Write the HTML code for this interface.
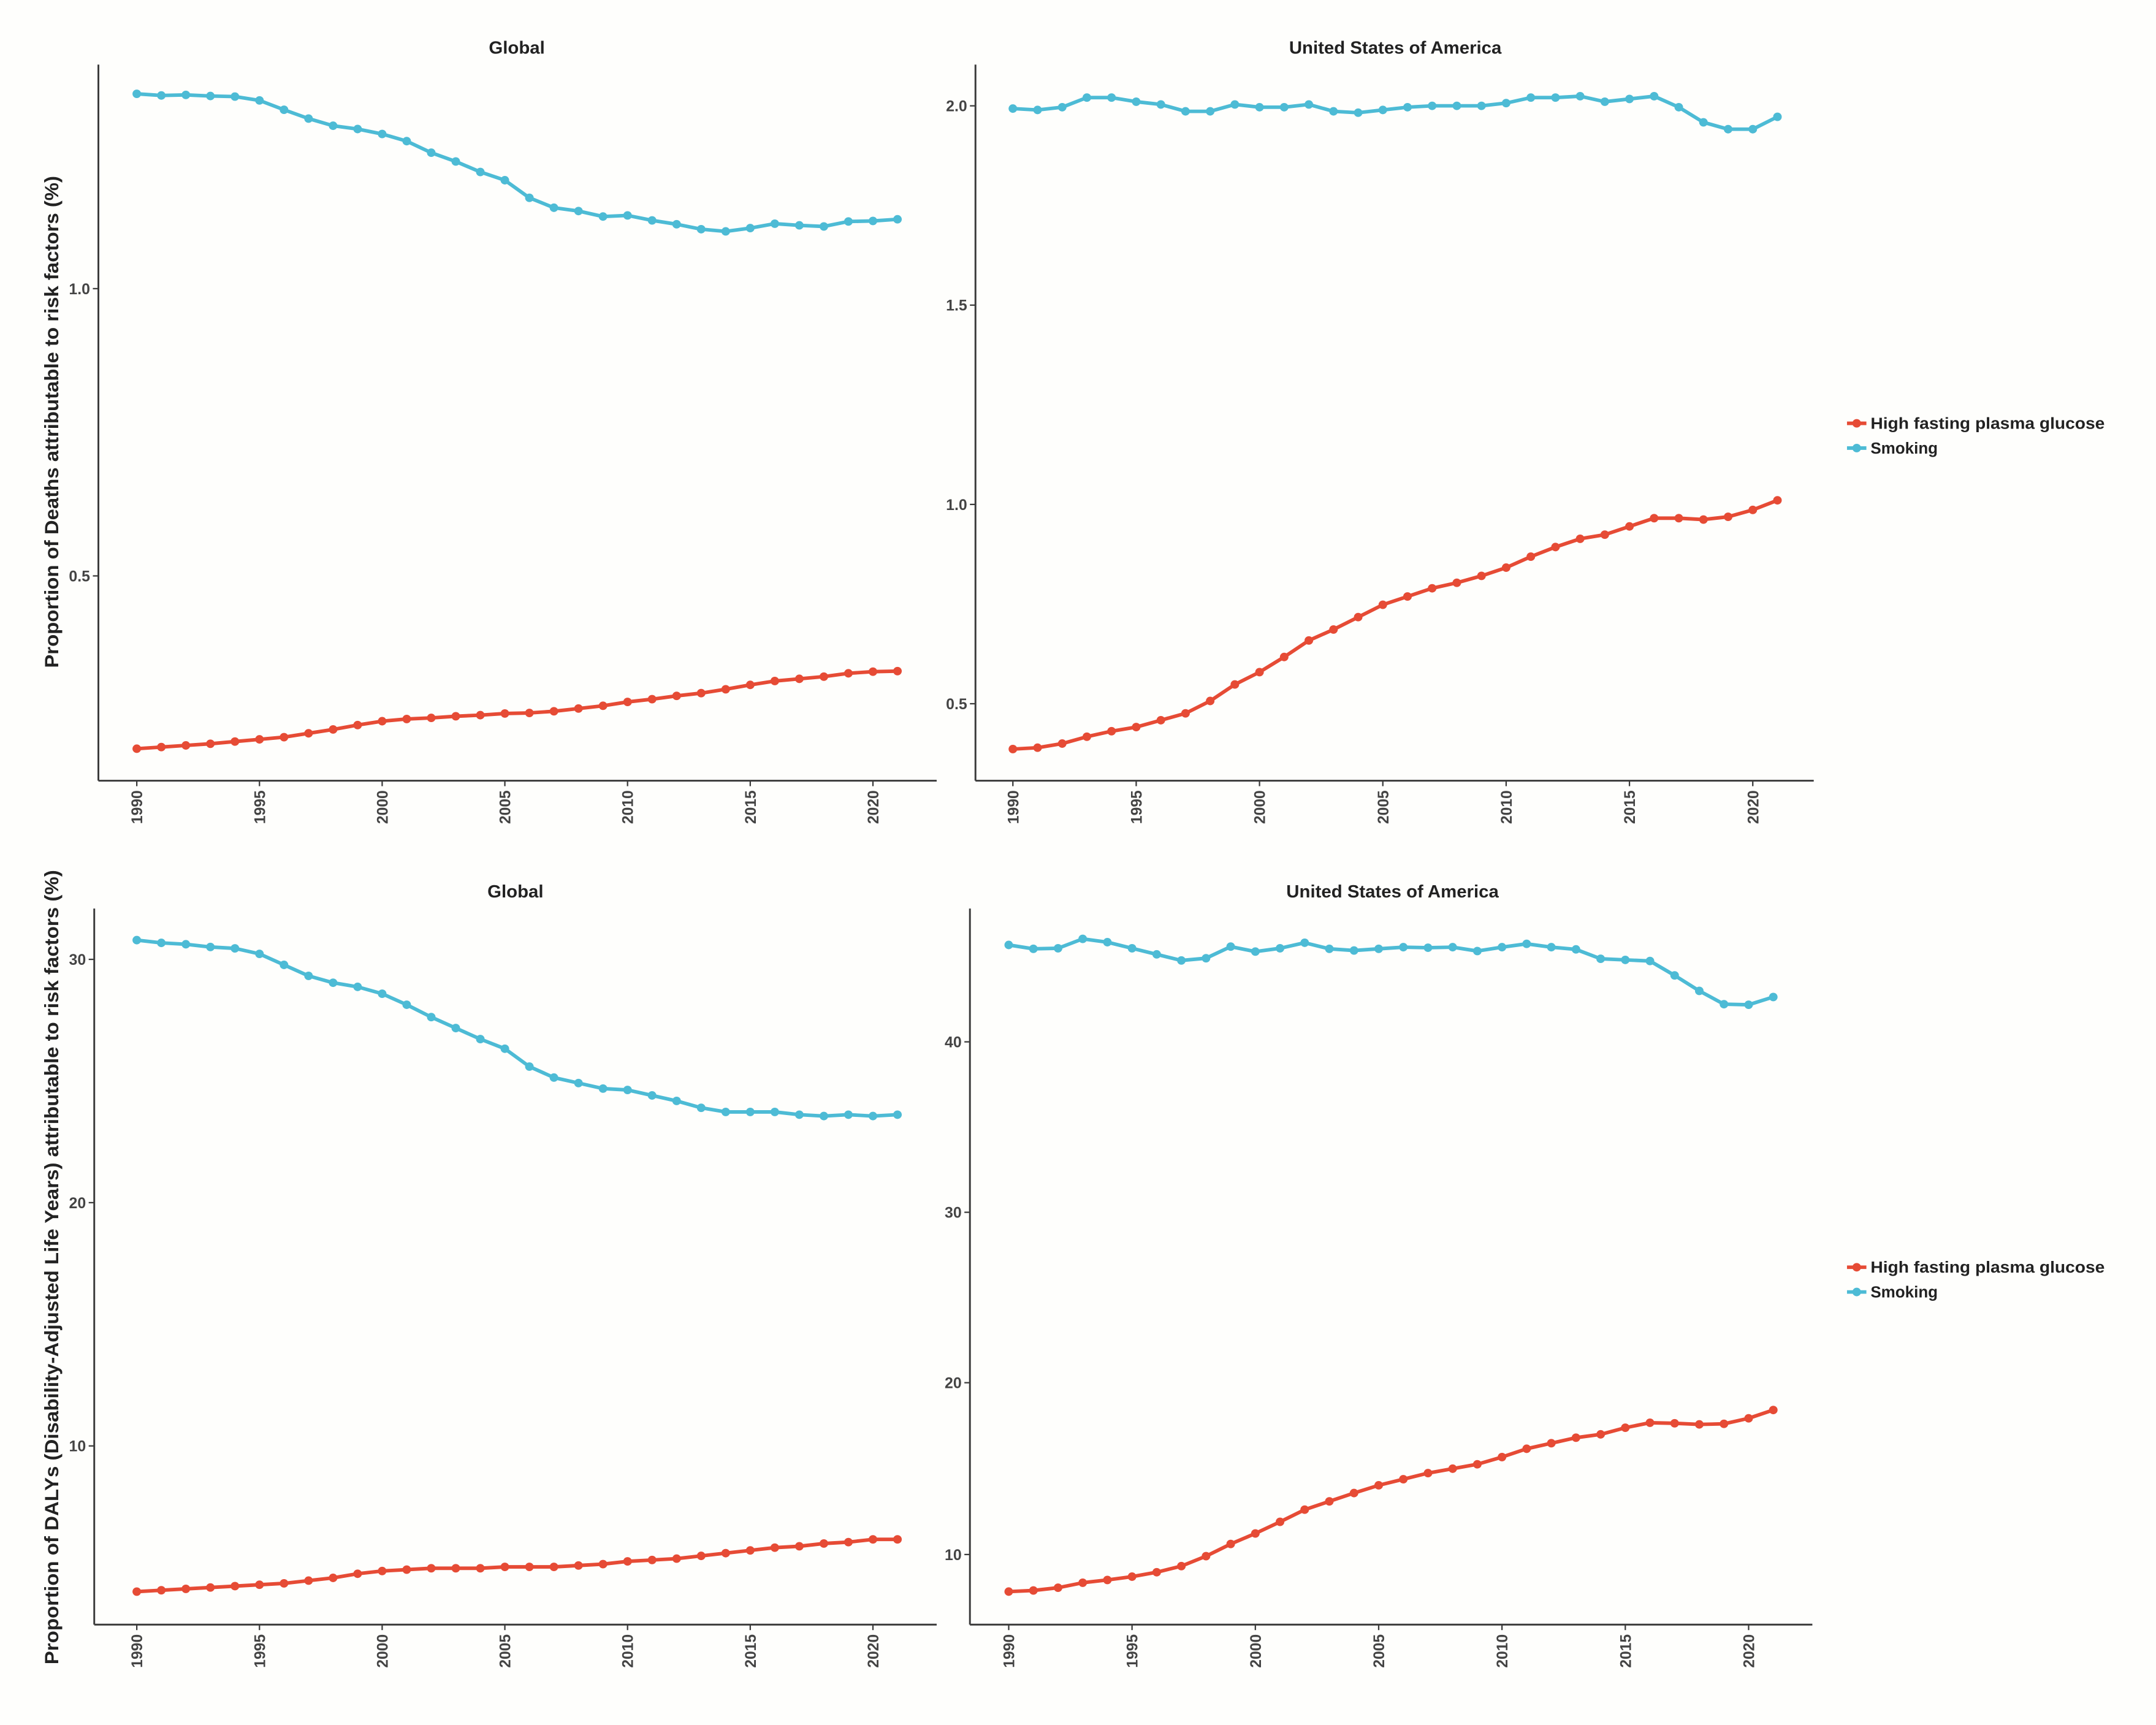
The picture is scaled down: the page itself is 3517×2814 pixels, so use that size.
<!DOCTYPE html>
<html><head><meta charset="utf-8"><style>
html,body{margin:0;padding:0;background:#fefefc;}
svg{display:block;}
text{font-family:"Liberation Sans",sans-serif;}
</style></head><body>
<svg id="s" width="3517" height="2814" viewBox="0 0 1556 1245" xmlns="http://www.w3.org/2000/svg">
<rect width="1556" height="1245" fill="#fefefc"/>
<g id="g" transform="scale(1,0.992)"></g>
</svg>
<script>
const g=document.getElementById('g');let h='';
const RED='#E64B35',BLUE='#4DBBD5',AX='#3a3a3a';
function panel(o){
 h+=`<line x1="${o.l}" y1="${o.t}" x2="${o.l}" y2="${o.b}" stroke="${AX}" stroke-width="1.3"/>`;
 h+=`<line x1="${o.l}" y1="${o.b}" x2="${o.r}" y2="${o.b}" stroke="${AX}" stroke-width="1.3"/>`;
 h+=`<text x="${o.tx}" y="${o.t-8}" font-size="13" font-weight="bold" text-anchor="middle" fill="#222">${o.title}</text>`;
 for(const [v,y] of o.yt){
  h+=`<line x1="${o.l-4}" y1="${y}" x2="${o.l}" y2="${y}" stroke="${AX}" stroke-width="1"/>`;
  h+=`<text x="${o.l-6}" y="${y+4}" font-size="11" font-weight="bold" text-anchor="end" fill="#444">${v}</text>`;
 }
 const dx=(o.x2020-o.x1990)/30;
 for(let yr=1990;yr<=2020;yr+=5){
  const x=o.x1990+(yr-1990)*dx;
  h+=`<line x1="${x}" y1="${o.b}" x2="${x}" y2="${o.b+4}" stroke="${AX}" stroke-width="1"/>`;
  h+=`<text transform="translate(${x+4},${o.b+7}) rotate(-90)" font-size="11" font-weight="bold" text-anchor="end" fill="#444">${yr}</text>`;
 }
 for(const [ys,c] of [[o.red,RED],[o.blue,BLUE]]){
  const pts=ys.map((y,i)=>[o.x1990+i*dx,y]);
  h+=`<polyline points="${pts.map(p=>p.join(',')).join(' ')}" fill="none" stroke="${c}" stroke-width="2.6" stroke-linejoin="round"/>`;
  for(const p of pts)h+=`<circle cx="${p[0]}" cy="${p[1]}" r="3.1" fill="${c}"/>`;
 }
}
const mapA=a=>a.map(z=>210+(z-530)*0.4004);
const mapD=a=>a.map(z=>758+(z-334)*0.4028);
panel({l:71,r:676,t:47,b:568,tx:373,title:'Global',x1990:98.7,x2020:630,
 yt:[['1.0',210],['0.5',419]],
 blue:mapA([176,179,178,180,181,188,205,221,234,240,249,262,283,299,318,333,365,383,389,399,397,406,413,422,426,420,412,415,417,408,407,404]),
 red:mapA([1366,1363,1360,1357,1353,1349,1345,1338,1331,1323,1316,1312,1310,1307,1305,1302,1301,1298,1293,1288,1281,1276,1270,1265,1258,1250,1243,1239,1235,1229,1226,1225])});
panel({l:704,r:1309,t:47,b:568,tx:1007,title:'United States of America',x1990:731,x2020:1265,
 yt:[['2.0',77],['1.5',222],['1.0',367],['0.5',512]],
 blue:[79,80,78,71,71,74,76,81,81,76,78,78,76,81,82,80,78,77,77,77,75,71,71,70,74,72,70,78,89,94,94,85],
 red:[545,544,541,536,532,529,524,519,510,498,489,478,466,458,449,440,434,428,424,419,413,405,398,392,389,383,377,377,378,376,371,364]});
panel({l:68,r:676,t:661,b:1182,tx:372,title:'Global',x1990:98.7,x2020:630,
 yt:[['30',698],['20',875],['10',1052]],
 blue:[684,686,687,689,690,694,702,710,715,718,723,731,740,748,756,763,776,784,788,792,793,797,801,806,809,809,809,811,812,811,812,811],
 red:[1158,1157,1156,1155,1154,1153,1152,1150,1148,1145,1143,1142,1141,1141,1141,1140,1140,1140,1139,1138,1136,1135,1134,1132,1130,1128,1126,1125,1123,1122,1120,1120]});
panel({l:700,r:1308,t:661,b:1182,tx:1005,title:'United States of America',x1990:728,x2020:1262,
 yt:[['40',758],['30',882],['20',1006],['10',1131]],
 blue:mapD([159,166,165,148,154,165,176,187,183,162,171,165,155,166,169,166,163,164,163,170,163,157,163,167,184,186,188,214,242,266,267,253]),
 red:mapD([1327,1325,1320,1311,1306,1300,1292,1281,1263,1241,1222,1201,1179,1164,1149,1135,1124,1113,1105,1097,1084,1069,1059,1049,1043,1031,1022,1023,1025,1024,1014,999])});
h+=`<text transform="translate(42,307) rotate(-90)" font-size="14" font-weight="bold" text-anchor="middle" fill="#222" textLength="358" lengthAdjust="spacingAndGlyphs">Proportion of Deaths attributable to risk factors (%)</text>`;
h+=`<text transform="translate(42,1211) rotate(-90)" font-size="14" font-weight="bold" text-anchor="start" fill="#222" textLength="578" lengthAdjust="spacingAndGlyphs">Proportion of DALYs (Disability-Adjusted Life Years) attributable to risk factors (%)</text>`;
for(const y0 of [308,922]){
 [[RED,'High fasting plasma glucose',0],[BLUE,'Smoking',18]].forEach(([c,t,d])=>{
  h+=`<line x1="1333" y1="${y0+d}" x2="1347" y2="${y0+d}" stroke="${c}" stroke-width="2.6"/><circle cx="1340" cy="${y0+d}" r="3.1" fill="${c}"/>`;
  h+=`<text x="1350" y="${y0+d+4}" font-size="11.5" font-weight="bold" fill="#222" ${d==0?'textLength="169" lengthAdjust="spacingAndGlyphs"':''}>${t}</text>`;
 });
}
g.innerHTML=h;
</script>
</body></html>
